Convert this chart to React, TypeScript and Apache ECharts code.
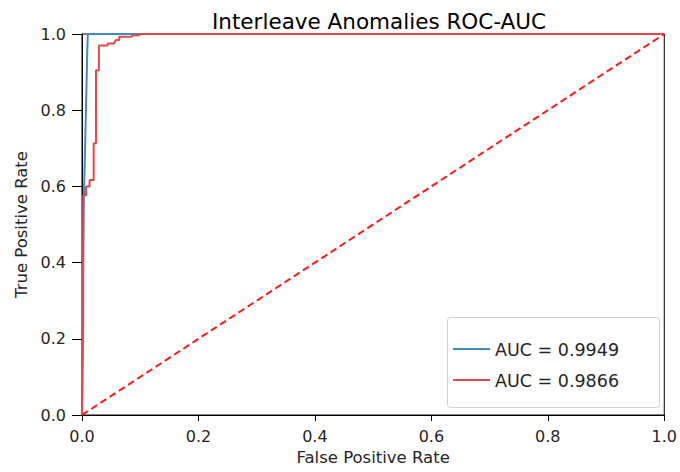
import React, { useEffect, useRef } from "react";
import * as echarts from "echarts";

const titleText = "Interleave Anomalies ROC-AUC";
const xLabel = "False Positive Rate";
const yLabel = "True Positive Rate";
const legendLabels = ["AUC = 0.9949", "AUC = 0.9866"];

const blueFpr = [0, 0.001, 0.003, 0.006, 0.009, 0.01, 1];
const blueTpr = [0, 0.25, 0.55, 0.75, 0.95, 1, 1];

const redFpr = [0, 0.002, 0.002, 0.007, 0.007, 0.013, 0.013, 0.02, 0.02, 0.024, 0.024, 0.029, 0.029, 0.044, 0.044, 0.055, 0.058, 0.064, 0.064, 0.085, 0.087, 0.099, 0.1, 1];
const redTpr = [0, 0.236, 0.577, 0.577, 0.6, 0.6, 0.617, 0.617, 0.713, 0.713, 0.905, 0.905, 0.97, 0.97, 0.975, 0.975, 0.984, 0.984, 0.993, 0.993, 0.997, 0.997, 1, 1];

const diagX = [0, 1];
const diagY = [0, 1];

const BLUE = "#3f8bc3";
const RED = "#e5474b";
const FONT = "DejaVu Sans";

const zip = (a: number[], b: number[]) => a.map((v, i) => [v, b[i]]);

export default function App() {
  const ref = useRef<HTMLDivElement>(null);
  useEffect(() => {
    if (!ref.current) return;
    const chart = echarts.init(ref.current, undefined, { renderer: "svg" });
    const axisCommon = {
      type: "value" as const,
      min: 0,
      max: 1,
      interval: 0.2,
      splitLine: { show: false },
      axisLine: { show: true, lineStyle: { color: "#000", width: 1 } },
      nameLocation: "middle" as const,
      nameTextStyle: { color: "#262626", fontFamily: FONT, fontSize: 16.5 },
    };
    const labelCommon = {
      color: "#262626",
      fontFamily: FONT,
      fontSize: 16,
      formatter: (v: number) => v.toFixed(1),
    };
    chart.setOption({
      animation: false,
      backgroundColor: "#fff",
      title: {
        text: titleText,
        left: 374,
        textAlign: "center",
        top: 5,
        textStyle: { fontFamily: FONT, fontSize: 21.5, fontWeight: "normal", color: "#000" },
      },
      grid: {
        left: 82,
        right: 14,
        top: 34,
        bottom: 57,
        show: true,
        borderColor: "#000",
        borderWidth: 1,
        backgroundColor: "transparent",
      },
      xAxis: {
        ...axisCommon,
        name: xLabel,
        nameGap: 34,
        axisTick: { show: true, inside: false, length: 6, lineStyle: { color: "#000" } },
        axisLabel: { ...labelCommon, margin: 13 },
      },
      yAxis: {
        ...axisCommon,
        name: yLabel,
        nameGap: 51,
        axisTick: { show: true, inside: false, length: 10, lineStyle: { color: "#000" } },
        axisLabel: { ...labelCommon, margin: 16 },
      },
      series: [
        {
          type: "line",
          data: zip(blueFpr, blueTpr),
          showSymbol: false,
          lineStyle: { color: BLUE, width: 2 },
          itemStyle: { color: BLUE },
        },
        {
          type: "line",
          data: zip(redFpr, redTpr),
          showSymbol: false,
          lineStyle: { color: RED, width: 2 },
          itemStyle: { color: RED },
        },
        {
          type: "line",
          data: zip(diagX, diagY),
          showSymbol: false,
          lineStyle: { color: "#ff1a1a", width: 2, type: [7, 4] },
        },
      ],
      graphic: [
        {
          type: "rect",
          shape: { x: 447.5, y: 317.5, width: 212, height: 90, r: 3 },
          style: { fill: "rgba(255,255,255,0.8)", stroke: "#d0d0d0", lineWidth: 1 },
          z: 100,
        },
        {
          type: "line",
          shape: { x1: 453, y1: 349, x2: 490, y2: 349 },
          style: { stroke: BLUE, lineWidth: 2 },
          z: 101,
        },
        {
          type: "line",
          shape: { x1: 453, y1: 380, x2: 490, y2: 380 },
          style: { stroke: RED, lineWidth: 2 },
          z: 101,
        },
        {
          type: "text",
          x: 495,
          y: 350,
          style: { text: legendLabels[0], fontFamily: FONT, fontSize: 17.5, fill: "#262626", textVerticalAlign: "middle" },
          z: 101,
        },
        {
          type: "text",
          x: 495,
          y: 380.5,
          style: { text: legendLabels[1], fontFamily: FONT, fontSize: 17.5, fill: "#262626", textVerticalAlign: "middle" },
          z: 101,
        },
      ],
    });
    return () => chart.dispose();
  }, []);
  return <div ref={ref} style={{ width: 680, height: 472, position: "absolute", left: 0, top: 0 }} />;
}
